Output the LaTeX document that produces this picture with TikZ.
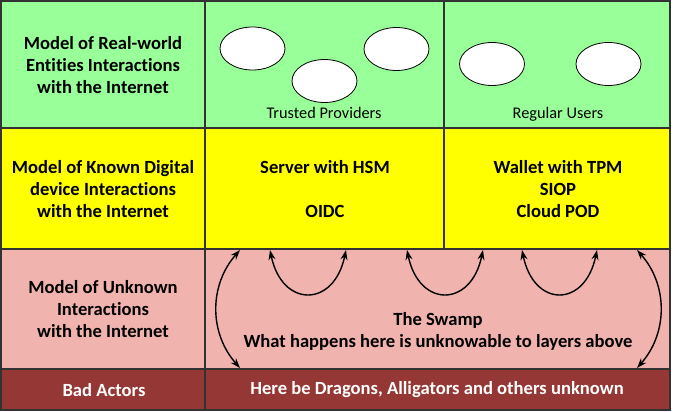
\documentclass[tikz,border=0pt]{standalone}
\usepackage{fontspec}
\setmainfont{Carlito}[RawFeature={-liga}]
\usetikzlibrary{arrows.meta,shapes.geometric}
\definecolor{rowgreen}{RGB}{153,255,153}
\definecolor{rowyellow}{RGB}{255,255,0}
\definecolor{rowpink}{RGB}{240,179,173}
\definecolor{rowred}{RGB}{149,55,53}
\definecolor{gridline}{RGB}{50,50,50}
\tikzset{
  cell/.style={draw=gridline,line width=1.2pt},
  lbl/.style={font=\fontsize{18.6}{22}\selectfont\bfseries,align=center,inner sep=0pt},
  small/.style={font=\fontsize{16.3}{19}\selectfont,inner sep=0pt,anchor=base},
  bubble/.style={ellipse,draw=black,fill=white,line width=0.8pt,minimum width=65pt,minimum height=43pt,inner sep=0pt},
  flow/.style={line width=1.4pt,{Stealth[length=10pt,width=7pt]}-{Stealth[length=10pt,width=7pt]}}
}
\begin{document}
\begin{tikzpicture}[x=1pt,y=-1pt]
\useasboundingbox (0,0) rectangle (673,412);
% backgrounds
\fill[rowgreen] (1,1) rectangle (670,128);
\fill[rowyellow] (1,128) rectangle (670,249);
\fill[rowpink] (1,249) rectangle (670,369);
\fill[rowred] (1,369) rectangle (670,410);
% grid
\draw[cell] (1,1) rectangle (670,410);
\draw[cell] (1,128) -- (670,128);
\draw[cell] (1,249) -- (670,249);
\draw[cell] (1,369) -- (670,369);
\draw[cell] (205,1) -- (205,410);
\draw[cell] (444,1) -- (444,249);
% left column
\node[lbl] (l1) at (103,65) {Model of Real-world\\Entities Interactions\\ with the Internet};
\node[lbl] (l2) at (103,189) {Model of Known Digital\\device Interactions\\ with the Internet};
\node[lbl] (l3) at (103,309) {Model of Unknown\\Interactions\\ with the Internet};
\node[lbl,text=white] (l4) at (104,390) {Bad Actors};
% top row bubbles
\node[bubble] (e1) at (252.5,48.5) {};
\node[bubble] (e2) at (324.5,81) {};
\node[bubble] (e3) at (396.5,49) {};
\node[bubble] (e4) at (492,64) {};
\node[bubble] (e5) at (608.5,64) {};
\node[small] (tp) at (324,118.5) {Trusted Providers};
\node[small] (ru) at (558,118.5) {Regular Users};
% yellow row
\node[lbl] (s1) at (325,167) {Server with HSM};
\node[lbl] (s2) at (325,211) {OIDC};
\node[lbl] (w1) at (558,189) {Wallet with TPM\\SIOP\\Cloud POD};
% swamp
\node[lbl] (sw) at (438,331) {The Swamp\\What happens here is unknowable to layers above};
\node[lbl,text=white] (dr) at (437,390) {Here be Dragons, Alligators and others unknown};
% arrow endpoints
\coordinate (a1) at (240,250);
\coordinate (a2) at (240,368);
\coordinate (b1) at (270,250);
\coordinate (b2) at (346,250);
\coordinate (c1) at (407,250);
\coordinate (c2) at (483,250);
\coordinate (d1) at (522,250);
\coordinate (d2) at (597,250);
\coordinate (f1) at (637,250);
\coordinate (f2) at (637,368);
\draw[flow] (a1) .. controls (209,285) and (209,333) .. (a2);
\draw[flow] (f1) .. controls (668,285) and (668,333) .. (f2);
\draw[flow] (b1) .. controls (282,308) and (334,308) .. (b2);
\draw[flow] (c1) .. controls (419,308) and (471,308) .. (c2);
\draw[flow] (d1) .. controls (534,308) and (585,308) .. (d2);
\end{tikzpicture}
\end{document}
